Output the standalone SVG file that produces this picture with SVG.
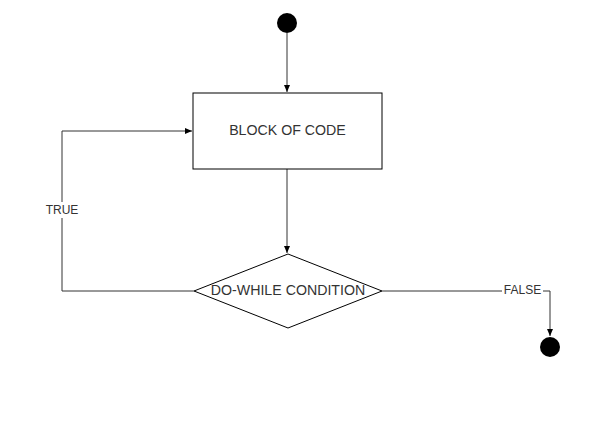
<svg xmlns="http://www.w3.org/2000/svg" width="616" height="440" viewBox="0 0 616 440">
<style>
.n{fill:#fff;stroke:#000;stroke-width:1}
.t{font-family:"Liberation Sans",Arial,sans-serif;fill:#333;text-anchor:middle;dominant-baseline:central}
.c{fill:none;stroke:#333;stroke-width:1}
.dot{fill:#000}
</style>
<defs>
<marker id="a" markerWidth="8" markerHeight="8" refX="7" refY="4" orient="auto" markerUnits="userSpaceOnUse">
<path d="M0,1 L7,4 L0,7 Z" fill="#000"/>
</marker>
</defs>
<rect width="616" height="440" fill="#fff"/>
<g id="connectors">
<path class="c" d="M287,33 V92" marker-end="url(#a)"/>
<path class="c" d="M287,169 V253" marker-end="url(#a)"/>
<path class="c" d="M194,291 H62 V131 H192" marker-end="url(#a)"/>
<path class="c" d="M382,291 H550 V336" marker-end="url(#a)"/>
<rect x="44" y="202" width="36" height="16" fill="#fff"/>
<text class="t" x="62" y="210" font-size="12">TRUE</text>
<rect x="502" y="282" width="41" height="15" fill="#fff"/>
<text class="t" x="522.5" y="289.5" font-size="12">FALSE</text>
</g>
<g id="start"><circle class="dot" cx="287" cy="23" r="10"/></g>
<g id="block"><rect class="n" x="193" y="93" width="189" height="76"/><text class="t" x="287.5" y="130" font-size="14.2">BLOCK OF CODE</text></g>
<g id="condition"><polygon class="n" points="288,254 382,291 288,328 194,291"/><text class="t" x="288" y="290" font-size="14.2">DO-WHILE CONDITION</text></g>
<g id="end"><circle class="dot" cx="550" cy="347" r="10"/></g>
</svg>
